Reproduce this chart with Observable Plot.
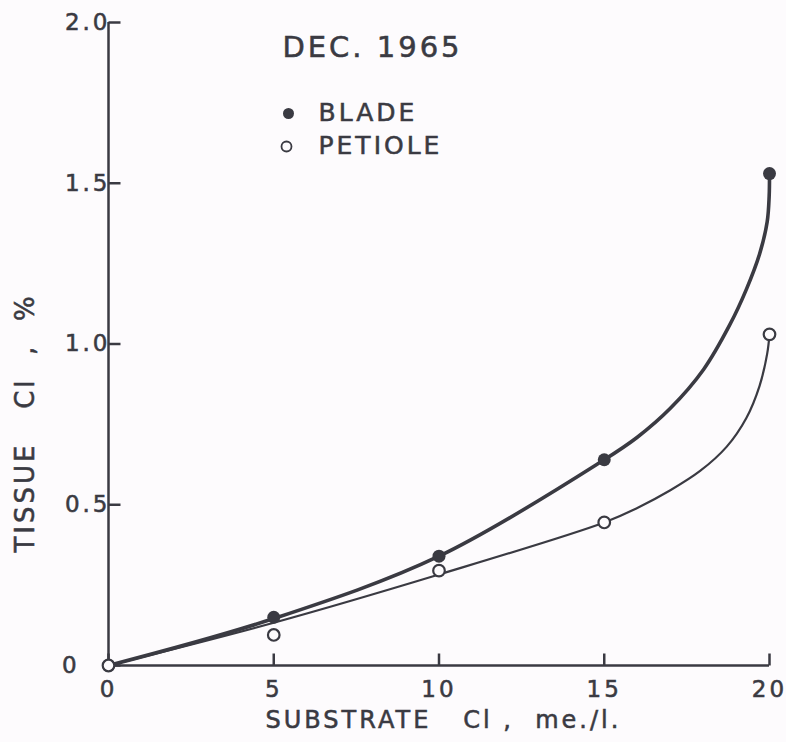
<!DOCTYPE html>
<html><head><meta charset="utf-8">
<script src="https://cdn.jsdelivr.net/npm/d3@7"></script>
<script src="https://cdn.jsdelivr.net/npm/@observablehq/plot@0.6"></script>
<style>
body{margin:0;background:#fdfbfd;}
svg text{white-space:pre;stroke:#3a3a42;stroke-width:0.55px;}
g[aria-label="legend"] text{letter-spacing:6px;}
g[aria-label="title"] text{letter-spacing:0px;stroke-width:0.9px;}
g[aria-label="x-title"] text{letter-spacing:4.5px;}
g[aria-label="y-title"] text{letter-spacing:4px;}
</style>
</head><body><div id="chart"></div>
<script>
// measured points
const substrate = [0, 5, 10, 15, 20];
const blade     = [0, 0.15, 0.34, 0.64, 1.53];
const petiole   = [0, 0.095, 0.295, 0.445, 1.03];

// hand-drawn fitted curves, knots
const bladeCurveX   = [0, 5, 10, 15, 16, 17, 18, 18.8, 19.3, 19.7, 19.93, 19.99, 20];
const bladeCurveY   = [0, 0.146, 0.34, 0.64, 0.71, 0.80, 0.92, 1.06, 1.17, 1.28, 1.38, 1.46, 1.53];
const petioleCurveX = [0, 5, 10, 15, 16, 17, 17.9, 18.7, 19.3, 19.7, 19.93, 20];
const petioleCurveY = [0, 0.133, 0.283, 0.445, 0.49, 0.545, 0.605, 0.68, 0.77, 0.87, 0.97, 1.03];

const xTicks = [0, 5, 10, 15, 20];
const yTicks = [0, 0.5, 1.0, 1.5, 2.0];
const yTickLabels = ["0   ", "0.5", "1.0", "1.5", "2.0"];

const title = "DEC. 1965";
const seriesNames = ["BLADE", "PETIOLE"];
const xLabel = "SUBSTRATE   Cl ,  me./l.";
const yLabel = "TISSUE   Cl  ,  %";

const ink = "#3a3a42";
const bg = "#fdfbfd";

const W = 786, H = 742, mL = 108, mR = 17, mT = 22, mB = 77;
const frameW = W - mL - mR, frameH = H - mT - mB;
const xDomain = [0, 20], yDomain = [0, 2];
const tickPx = 12;
// inward tick length converted from pixels into data units
const tickLenY = tickPx * (yDomain[1] - yDomain[0]) / frameH;
const tickLenX = tickPx * (xDomain[1] - xDomain[0]) / frameW;

const bladePts = substrate.map((x, i) => ({x, y: blade[i]}));
const petiolePts = substrate.map((x, i) => ({x, y: petiole[i]}));
const bladeCurve = bladeCurveX.map((x, i) => ({x, y: bladeCurveY[i]}));
const petioleCurve = petioleCurveX.map((x, i) => ({x, y: petioleCurveY[i]}));

const chart = Plot.plot({
  width: W, height: H,
  marginLeft: mL, marginRight: mR, marginTop: mT, marginBottom: mB,
  style: {background: bg, color: ink, fontFamily: "DejaVu Sans", fontSize: "23px", letterSpacing: "3px"},
  x: {domain: xDomain},
  y: {domain: yDomain},
  marks: [
    Plot.ruleX([0], {stroke: ink, strokeWidth: 2.5}),
    Plot.ruleY([0], {stroke: ink, strokeWidth: 2.5}),
    // inward ticks
    Plot.link(xTicks, {x1: d => d, x2: d => d, y1: () => 0, y2: () => tickLenY, stroke: ink, strokeWidth: 2.5}),
    Plot.link(yTicks, {x1: () => 0, x2: () => tickLenX, y1: d => d, y2: d => d, stroke: ink, strokeWidth: 2.5}),
    Plot.axisX(xTicks, {tickSize: 0, tickPadding: 15, label: null, fill: ink, fontSize: 23, tickFormat: d => String(d)}),
    Plot.axisY(yTicks, {tickSize: 0, tickPadding: -2, label: null, fill: ink, fontSize: 23, tickFormat: (d) => yTickLabels[yTicks.indexOf(d)]}),
    Plot.line(petioleCurve, {x: "x", y: "y", curve: "catmull-rom", stroke: ink, strokeWidth: 2.2}),
    Plot.line(bladeCurve, {x: "x", y: "y", curve: "catmull-rom", stroke: ink, strokeWidth: 3.6}),
    Plot.dot(bladePts, {x: "x", y: "y", r: 6.5, fill: ink, stroke: "none"}),
    Plot.dot(petiolePts, {x: "x", y: "y", r: 5.8, fill: bg, stroke: ink, strokeWidth: 2.2}),
    // title and legend
    Plot.text([title], {text: d => d, frameAnchor: "top-left", lineAnchor: "middle", dx: 264, dy: 25, textAnchor: "middle", fontSize: 29, fill: ink, ariaLabel: "title"}),
    Plot.dot([seriesNames[0]], {frameAnchor: "top-left", dx: 180, dy: 91, r: 5.5, fill: ink, stroke: "none"}),
    Plot.dot([seriesNames[1]], {frameAnchor: "top-left", dx: 178, dy: 124, r: 5, fill: bg, stroke: ink, strokeWidth: 1.8}),
    Plot.text([seriesNames[0]], {text: d => d, frameAnchor: "top-left", lineAnchor: "middle", dx: 210, dy: 90, textAnchor: "start", fontSize: 25, fill: ink, ariaLabel: "legend"}),
    Plot.text([seriesNames[1]], {text: d => d, frameAnchor: "top-left", lineAnchor: "middle", dx: 210, dy: 123, textAnchor: "start", fontSize: 25, fill: ink, ariaLabel: "legend"}),
    // axis titles
    Plot.text([xLabel], {text: d => d, frameAnchor: "bottom-left", lineAnchor: "middle", dx: 157, dy: 55, textAnchor: "start", fontSize: 24, fill: ink, ariaLabel: "x-title"}),
    Plot.text([yLabel], {text: d => d, frameAnchor: "left", lineAnchor: "middle", dx: -83, dy: 79, rotate: -90, textAnchor: "middle", fontSize: 26, fill: ink, ariaLabel: "y-title"})
  ]
});
document.getElementById("chart").appendChild(chart);
</script>
</body></html>
